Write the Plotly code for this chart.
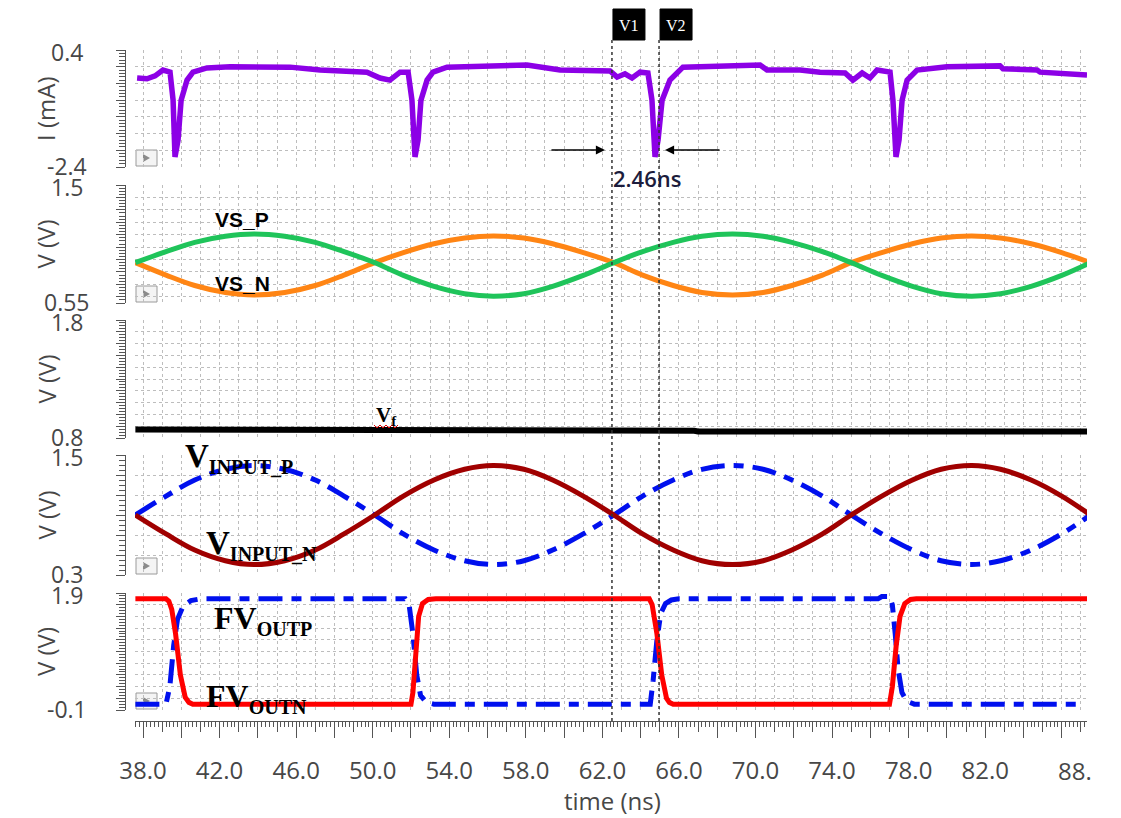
import plotly.graph_objects as go

# ---------------- data ----------------
# Panel 1: supply current I (mA)
t_i = [37.69, 38.21, 38.63, 39.04, 39.41, 39.57, 39.67, 39.83, 39.99, 40.30, 40.61, 41.34,
       42.55, 45.68, 47.25, 49.70, 50.38, 50.90, 51.43, 51.85, 52.05, 52.21, 52.37, 52.52,
       52.84, 53.15, 53.88, 56.65, 58.06, 59.79, 62.40, 62.77, 63.18, 63.55, 63.97, 64.38,
       64.59, 64.75, 64.91, 65.12, 65.53, 66.21, 70.24, 70.60, 72.33, 73.37, 74.68, 75.09,
       75.57, 75.98, 76.35, 77.03, 77.18, 77.34, 77.50, 77.66, 77.92, 78.44, 80.00, 82.77,
       82.93, 84.71, 84.87, 87.32]
i_ma = [-0.27, -0.29, -0.22, -0.08, -0.13, -0.80, -2.16, -1.75, -0.80, -0.32, -0.13, -0.03,
        0.00, -0.01, -0.08, -0.13, -0.27, -0.32, -0.13, -0.13, -0.80, -2.16, -1.75, -0.80,
        -0.32, -0.13, -0.01, 0.04, 0.04, -0.08, -0.10, -0.25, -0.17, -0.27, -0.13, -0.15,
        -0.80, -2.16, -1.75, -0.80, -0.32, -0.01, 0.04, -0.08, -0.08, -0.13, -0.15, -0.32,
        -0.15, -0.27, -0.08, -0.13, -0.80, -2.16, -1.75, -0.80, -0.32, -0.08, 0.00, 0.02,
        -0.05, -0.08, -0.13, -0.20]

# Sine-like waveforms sample times (ns)
t_sin = [37.6, 39.2, 40.7, 42.3, 43.8, 45.4, 47.0, 48.5, 50.1, 51.6, 53.2, 54.8, 56.3, 57.9,
         59.4, 61.0, 62.6, 64.1, 65.7, 67.2, 68.8, 70.4, 71.9, 73.5, 75.0, 76.6, 78.2, 79.7,
         81.3, 82.8, 84.4, 86.0, 87.5]
# Panel 2: VS_P / VS_N (V)
vs_p = [0.875, 0.963, 1.038, 1.087, 1.105, 1.087, 1.038, 0.963, 0.875, 0.772, 0.684, 0.625,
        0.605, 0.625, 0.684, 0.772, 0.875, 0.963, 1.038, 1.087, 1.105, 1.087, 1.038, 0.963,
        0.875, 0.772, 0.684, 0.625, 0.605, 0.625, 0.684, 0.772, 0.875]
vs_n = [0.875, 0.775, 0.691, 0.635, 0.615, 0.635, 0.691, 0.775, 0.875, 0.956, 1.027, 1.073,
        1.090, 1.073, 1.027, 0.956, 0.875, 0.775, 0.691, 0.635, 0.615, 0.635, 0.691, 0.775,
        0.875, 0.956, 1.027, 1.073, 1.090, 1.073, 1.027, 0.956, 0.875]
# Panel 3: Vf (V)
t_vf = [37.6, 42.4, 42.6, 66.8, 67.0, 87.4]
vf = [0.872, 0.872, 0.862, 0.862, 0.856, 0.856]
# Panel 4: VINPUT_P / VINPUT_N (V)
vin_p = [0.900, 1.089, 1.250, 1.357, 1.395, 1.357, 1.250, 1.089, 0.900, 0.711, 0.550, 0.443,
         0.405, 0.443, 0.550, 0.711, 0.900, 1.089, 1.250, 1.357, 1.395, 1.357, 1.250, 1.089,
         0.900, 0.711, 0.550, 0.443, 0.405, 0.443, 0.550, 0.711, 0.900]
vin_n = [0.900, 0.711, 0.550, 0.443, 0.405, 0.443, 0.550, 0.711, 0.900, 1.089, 1.250, 1.357,
         1.395, 1.357, 1.250, 1.089, 0.900, 0.711, 0.550, 0.443, 0.405, 0.443, 0.550, 0.711,
         0.900, 1.089, 1.250, 1.357, 1.395, 1.357, 1.250, 1.089, 0.900]
# Panel 5: FV_OUTN (red) / FV_OUTP (blue)
t_outn = [37.6, 39.2, 39.35, 39.5, 39.7, 39.95, 40.2, 40.4, 40.6, 52.0, 52.1, 52.25, 52.4,
          52.6, 52.9, 53.3, 64.45, 64.6, 64.85, 65.1, 65.35, 65.5, 65.7, 77.0, 77.15, 77.35,
          77.55, 77.8, 78.1, 78.4, 87.4]
fv_outn = [1.8, 1.8, 1.76, 1.62, 1.2, 0.5, 0.12, 0.03, 0.0, 0.0, 0.2, 0.9, 1.5,
           1.72, 1.79, 1.8, 1.8, 1.7, 1.2, 0.5, 0.1, 0.03, 0.0, 0.0, 0.3, 1.0,
           1.5, 1.72, 1.79, 1.8, 1.8]
t_outp = [37.6, 39.2, 39.4, 39.6, 39.8, 40.1, 40.5, 41.0, 51.7, 51.9, 52.1, 52.3, 52.5, 52.8,
          53.2, 64.5, 64.65, 64.85, 65.05, 65.3, 65.6, 66.0, 76.4, 76.6, 77.0, 77.15, 77.3,
          77.45, 77.65, 77.9, 78.3, 86.9]
fv_outp = [0.0, 0.0, 0.3, 1.0, 1.45, 1.68, 1.77, 1.8, 1.8, 1.7, 1.2, 0.5, 0.15, 0.03,
           0.0, 0.0, 0.4, 1.1, 1.55, 1.72, 1.78, 1.8, 1.8, 1.84, 1.84, 1.7, 1.2,
           0.6, 0.2, 0.05, 0.0, 0.0]

# axes / ticks
x_range = [37.58, 87.32]
x_major = [38, 40, 42, 44, 46, 48, 50, 52, 54, 56, 58, 60, 62, 64, 66, 68, 70, 72, 74, 76,
           78, 80, 82, 84, 86]
x_labels = ["38.0", "", "42.0", "", "46.0", "", "50.0", "", "54.0", "", "58.0", "", "62.0", "",
            "66.0", "", "70.0", "", "74.0", "", "78.0", "", "82.0", "", ""]
x_mid = [39, 41, 43, 45, 47, 49, 51, 53, 55, 57, 59, 61, 63, 65, 67, 69, 71, 73, 75, 77, 79,
         81, 83, 85, 87]
x_end_label = "88."
y_ranges = [[-2.4, 0.4], [0.55, 1.5], [0.8, 1.8], [0.3, 1.5], [-0.1, 1.9]]
y_end_labels = [["-2.4", "0.4"], ["0.55", "1.5"], ["0.8", "1.8"], ["0.3", "1.5"], ["-0.1", "1.9"]]
y_grid = [
    [-2.4, -2.0, -1.6, -1.2, -0.8, -0.4, 0.0, 0.4],
    [0.55, 0.6, 0.7, 0.8, 0.9, 1.0, 1.1, 1.2, 1.3, 1.4, 1.5],
    [0.8, 0.9, 1.0, 1.1, 1.2, 1.3, 1.4, 1.5, 1.6, 1.7, 1.8],
    [0.3, 0.5, 0.7, 0.9, 1.1, 1.3, 1.5],
    [-0.1, 0.1, 0.3, 0.5, 0.7, 0.9, 1.1, 1.3, 1.5, 1.7, 1.9],
]
y_minor = [0.08, 0.025, 0.025, 0.05, 0.05]
y_titles = ["I (mA)", "V (V)", "V (V)", "V (V)", "V (V)"]
cursor_v1 = 62.5
cursor_v2 = 64.96
delta_label = "2.46ns"

# ---------------- layout geometry (pixels) ----------------
W, H = 1121, 818
def fx(px):
    return px / W
def fy(py):
    return 1 - py / H

panel_px = [(50, 167), (185, 303), (320, 438), (455, 575), (593, 710)]
x_dom = [fx(135), fx(1087)]
px_per_ns = (1087 - 135) / (x_range[1] - x_range[0])

GRID = "#bdbdbd"
AX = "#555555"
TXT = "#474747"
AXFONT = dict(family="Open Sans", size=24, color=TXT)
YLABFONT = dict(family="Open Sans", size=23, color=TXT)

fig = go.Figure()

def add(x, y, i, color, width=5, dash="solid", shape="linear"):
    fig.add_trace(go.Scatter(
        x=x, y=y, mode="lines", xaxis="x" if i == 1 else f"x{i}", yaxis="y" if i == 1 else f"y{i}",
        line=dict(color=color, width=width, dash=dash, shape=shape),
        showlegend=False, hoverinfo="skip"))

add(t_i, i_ma, 1, "#8c00e6", 5.5)
add(t_sin, vs_n, 2, "#ff8514", 5, shape="spline")
add(t_sin, vs_p, 2, "#1fc45a", 5, shape="spline")
add(t_vf, vf, 3, "#000000", 6)
add(t_sin, vin_p, 4, "#0010ee", 5, dash="24px,9px,10px,9px", shape="spline")
add(t_sin, vin_n, 4, "#a00000", 5, shape="spline")
add(t_outp, fv_outp, 5, "#0010ee", 5, dash="24px,9px,10px,9px")
add(t_outn, fv_outn, 5, "#ff0000", 5)
# carriers for the bottom ruler axes
fig.add_trace(go.Scatter(x=[None], y=[None], xaxis="x6", yaxis="y5", showlegend=False, hoverinfo="skip"))
fig.add_trace(go.Scatter(x=[None], y=[None], xaxis="x7", yaxis="y5", showlegend=False, hoverinfo="skip"))

layout = dict(
    width=W, height=H, margin=dict(l=0, r=0, t=0, b=0, autoexpand=False),
    paper_bgcolor="white", plot_bgcolor="white", showlegend=False,
)
for i in range(1, 6):
    top, bot = panel_px[i - 1]
    xa = dict(domain=x_dom, range=x_range, anchor="y" if i == 1 else f"y{i}", automargin=False,
              showticklabels=False, ticks="", showgrid=True, gridcolor=GRID, griddash="dot",
              gridwidth=1, tick0=38, dtick=1, zeroline=False, showline=False)
    if i > 1:
        xa["matches"] = "x"
    ya = dict(domain=[fy(bot), fy(top)], range=y_ranges[i - 1], anchor="free", position=fx(125),
              automargin=False, tickvals=y_grid[i - 1], showticklabels=False,
              ticks="outside", ticklen=9, tickcolor=AX, tickwidth=1, showline=True, linecolor=AX,
              linewidth=1, showgrid=True, gridcolor=GRID, griddash="dot", gridwidth=1,
              zeroline=False,
              minor=dict(dtick=y_minor[i - 1], tick0=y_ranges[i - 1][0], ticks="outside",
                         ticklen=6, tickcolor=AX, showgrid=False))
    layout["xaxis" if i == 1 else f"xaxis{i}"] = xa
    layout["yaxis" if i == 1 else f"yaxis{i}"] = ya

layout["xaxis6"] = dict(domain=x_dom, range=x_range, overlaying="x5", anchor="free",
                        position=fy(721), side="bottom", tickvals=x_major, ticktext=x_labels,
                        ticks="outside", ticklen=16, tickcolor=AX, tickwidth=1.3, showline=True,
                        linecolor=AX, linewidth=1.2, showgrid=False, zeroline=False,
                        automargin=False, tickfont=AXFONT, ticklabelstandoff=12,
                        minor=dict(dtick=0.2, tick0=38, ticks="outside", ticklen=5,
                                   tickcolor=AX, showgrid=False))
layout["xaxis7"] = dict(domain=x_dom, range=x_range, overlaying="x5", anchor="free",
                        position=fy(721), side="bottom", tickvals=x_mid, ticks="outside",
                        ticklen=10, tickcolor=AX, tickwidth=1.2, showticklabels=False,
                        showline=False, showgrid=False, zeroline=False, automargin=False)
fig.update_layout(**layout)

ann = []
shapes = []
for i, (top, bot) in enumerate(panel_px):
    yref = "y" if i == 0 else f"y{i + 1}"
    # y-axis title
    ann.append(dict(x=fx(27), y=fy((top + bot) / 2), xref="paper", yref="paper",
                    text=y_titles[i], textangle=-90, showarrow=False, yanchor="middle",
                    font=AXFONT))
    # end-of-scale labels (centred, like the viewer)
    for val, txt, shift in zip(y_ranges[i], y_end_labels[i], (1, -2)):
        ann.append(dict(x=fx(67), y=val, xref="paper", yref=yref, text=txt, showarrow=False,
                        xanchor="center", yanchor="middle", yshift=shift, font=YLABFONT))
    # little play-box icon
    if i != 2:
        shapes.append(dict(type="rect", xref="paper", yref="paper", x0=fx(136), x1=fx(157),
                           y0=fy(bot - 1), y1=fy(bot - 17), line=dict(color="#9a9a9a", width=1),
                           fillcolor="#f4f4f4", layer="below"))
        shapes.append(dict(type="path", xref="paper", yref="paper",
                           path=f"M {fx(143)} {fy(bot-13)} L {fx(143)} {fy(bot-5)} L {fx(150)} {fy(bot-9)} Z",
                           fillcolor="#8a8a8a", line=dict(width=0), layer="below"))
ann.append(dict(x=fx(612), y=fy(800), xref="paper", yref="paper", text="time (ns)",
                showarrow=False, yanchor="middle", font=AXFONT))
ann.append(dict(x=fx(1094), y=fy(770), xref="paper", yref="paper", text=x_end_label,
                showarrow=False, yanchor="middle", font=AXFONT))

# cursors
for c, name in ((cursor_v1, "V1"), (cursor_v2, "V2")):
    shapes.append(dict(type="line", xref="x", yref="paper", x0=c, x1=c, y0=fy(721), y1=fy(40),
                       line=dict(color="#333333", width=1.5, dash="dot")))
    shapes.append(dict(type="rect", xref="x", yref="paper", x0=c + 1 / px_per_ns,
                       x1=c + 33 / px_per_ns, y0=fy(40), y1=fy(9),
                       fillcolor="#000000", line=dict(color="#000000", width=1)))
    ann.append(dict(x=c + 17 / px_per_ns, y=fy(26), xref="x", yref="paper", text=name,
                    showarrow=False, yanchor="middle",
                    font=dict(family="Liberation Serif", size=16, color="white")))
# delta arrows
ann.append(dict(x=cursor_v1, y=fy(150), xref="x", yref="paper", ax=-62, ay=0, text="",
                showarrow=True, arrowhead=2, arrowsize=1.3, arrowwidth=1.4, arrowcolor="#000",
                standoff=7))
ann.append(dict(x=cursor_v2, y=fy(150), xref="x", yref="paper", ax=62, ay=0, text="",
                showarrow=True, arrowhead=2, arrowsize=1.3, arrowwidth=1.4, arrowcolor="#000",
                standoff=6))
ann.append(dict(x=(cursor_v1 + cursor_v2) / 2, xshift=11, y=fy(178), xref="x", yref="paper",
                text=delta_label, showarrow=False, yanchor="middle",
                font=dict(family="Open Sans", size=22, color="#1c1c3c", weight=600)))

# signal labels
def subl(main, sub, sz):
    return f'<b>{main}<sub><span style="font-size:{sz}px">{sub}</span></sub></b>'

lab = [
    ("<b>VS_P</b>", 213, 219, "Liberation Sans", 21),
    ("<b>VS_N</b>", 213, 283, "Liberation Sans", 21),
    (subl("V", "f", 15), 374, 416, "Liberation Serif", 21),
    (subl("V", "INPUT_P", 20), 183, 458, "Liberation Serif", 33),
    (subl("V", "INPUT_N", 20), 204, 545, "Liberation Serif", 33),
    (subl("FV", "OUTP", 20), 212, 620, "Liberation Serif", 32),
    (subl("FV", "OUTN", 20), 204, 698, "Liberation Serif", 32),
]
for text, x, y, fam, sz in lab:
    ann.append(dict(x=fx(x), y=fy(y), xref="paper", yref="paper", text=text, showarrow=False,
                    xanchor="left", yanchor="middle", font=dict(family=fam, size=sz, color="#000")))
# red squiggle under V_f
pts = []
for k in range(9):
    pts.append((374 + k * 3, 425 if k % 2 == 0 else 428))
path = "M " + " L ".join(f"{fx(a)} {fy(b)}" for a, b in pts)
shapes.append(dict(type="path", xref="paper", yref="paper", path=path,
                   line=dict(color="#e00000", width=1)))

fig.update_layout(annotations=ann, shapes=shapes)
fig.write_html("out.html")
